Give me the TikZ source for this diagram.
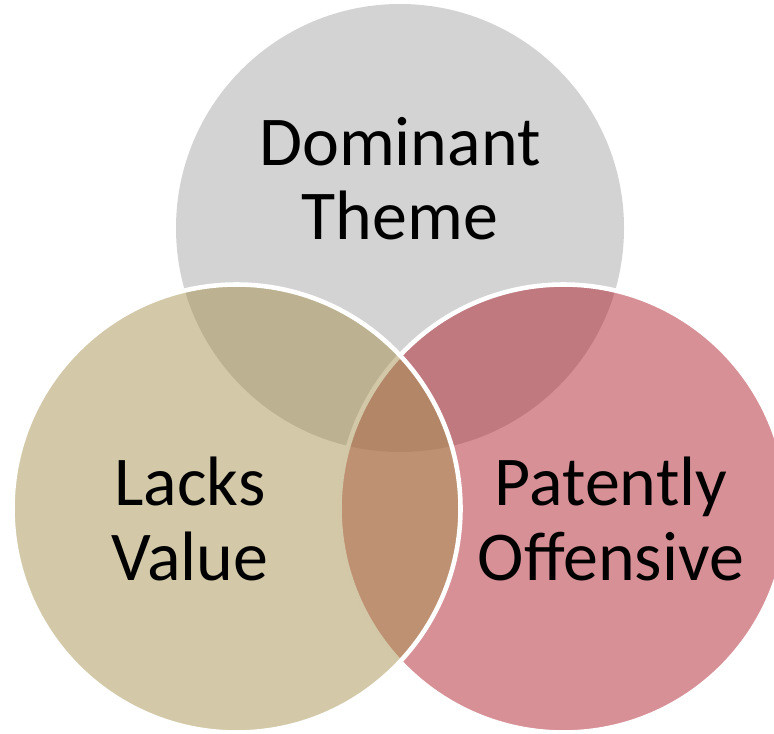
\documentclass[tikz,border=0pt]{standalone}
\usepackage{fontspec}
\setmainfont{Carlito}
\definecolor{themegrey}{RGB}{211,211,211}
\definecolor{valuetan}{RGB}{167,147,81}
\definecolor{offred}{RGB}{175,33,45}

\begin{document}
\begin{tikzpicture}[
  set/.style={draw=white, line width=1.3pt, fill opacity=0.5},
  lab/.style={align=center, inner sep=0pt, font=\fontsize{19.9}{21.3}\selectfont}]
\useasboundingbox (0,0) rectangle (7.74,7.33);
% centres of the three sets
\coordinate (ct) at (4.00,5.05);
\coordinate (cl) at (2.365,2.245);
\coordinate (cr) at (5.635,2.245);
\fill[themegrey] (ct) circle (2.24);
\draw[set, fill=offred] (cr) circle (2.24);
\draw[set, fill=valuetan] (cl) circle (2.24);
% base anchor sits on the last line
\node[lab, anchor=base] (dom) at (4.00,4.93) {Dominant\\Theme};
\node[lab, anchor=base] (lacks) at (1.90,1.53) {Lacks\\Value};
\node[lab, anchor=base] (pat) at (6.11,1.53) {Patently\\Offensive};
\end{tikzpicture}
\end{document}
